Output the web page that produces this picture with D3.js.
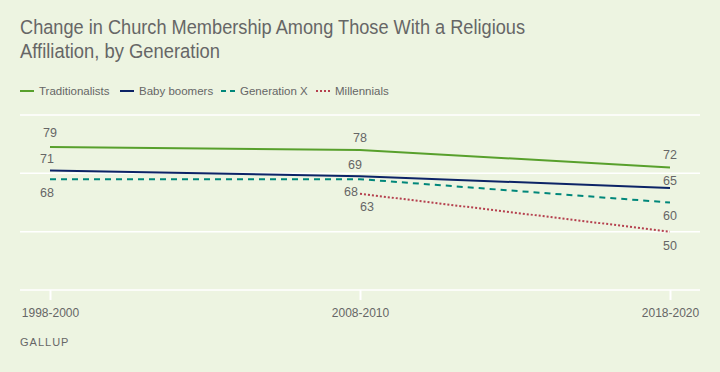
<!DOCTYPE html>
<html lang="en">
<head>
  <meta charset="UTF-8">
  <title>Church Membership by Generation</title>
  <script src="https://d3js.org/d3.v7.min.js"></script>
  <style>
    body {
      margin: 0;
      background: #edf4e1;
      font-family: "Liberation Sans", Arial, sans-serif;
    }
    .title {
      font-size: 20.5px;
      fill: #666;
    }
    .legend text {
      font-size: 11.5px;
      fill: #666;
    }
    .value {
      font-size: 12.5px;
      fill: #666;
      text-anchor: middle;
    }
    .axis text {
      font-size: 12px;
      fill: #666;
    }
  </style>
</head>
<body>
  <svg id="chart"></svg>
  <script>
    const width = 720;
    const height = 372;

    // data
    const periods = ["1998-2000", "2008-2010", "2018-2020"];
    const traditionalists = [79, 78, 72];
    const babyBoomers = [71, 69, 65];
    const generationX = [68, 68, 60];
    const millennials = [null, 63, 50];
    const yTicks = [30, 50, 70, 90];

    const series = [
      { name: "Traditionalists", values: traditionalists, color: "#58a02c", dash: null },
      { name: "Baby boomers", values: babyBoomers, color: "#0c2366", dash: null },
      { name: "Generation X", values: generationX, color: "#00877a", dash: "6,5" },
      { name: "Millennials", values: millennials, color: "#b5404e", dash: "2,2" }
    ];

    // label offsets (dx, dy) per series per point, to keep numbers apart
    const labelPos = [
      [[0, -14], [0, -12], [0, -13]],
      [[-3, -12], [-5, -12], [0, -7]],
      [[-3, 13], [-9, 12], [0, 13]],
      [null, [7, 13], [0, 14]]
    ];

    const svg = d3.select("#chart")
      .attr("width", width)
      .attr("height", height);

    const x = d3.scalePoint().domain(periods).range([50, 670]);
    const y = d3.scaleLinear().domain([30, 90]).range([290, 115]);

    // title (Gallup uses a condensed face; squeeze the glyphs to match)
    const title = svg.append("text").attr("class", "title").attr("x", 20).attr("y", 34);
    title.append("tspan").attr("x", 20)
      .attr("textLength", 505).attr("lengthAdjust", "spacingAndGlyphs")
      .text("Change in Church Membership Among Those With a Religious");
    title.append("tspan").attr("x", 20).attr("dy", 24)
      .attr("textLength", 200).attr("lengthAdjust", "spacingAndGlyphs")
      .text("Affiliation, by Generation");

    // legend
    const legend = svg.append("g").attr("class", "legend");
    const legendX = [20, 120, 221, 316];
    series.forEach((s, i) => {
      const lg = legend.append("g").attr("transform", `translate(${legendX[i]},91)`);
      lg.append("line")
        .attr("x1", 0).attr("x2", 14)
        .attr("stroke", s.color)
        .attr("stroke-width", 2)
        .attr("stroke-dasharray", s.dash === "6,5" ? "5,4" : s.dash);
      lg.append("text").attr("x", 19).attr("dy", "0.35em").text(s.name);
    });

    // gridlines
    svg.append("g").selectAll("line")
      .data(yTicks)
      .join("line")
        .attr("x1", 20).attr("x2", 700)
        .attr("y1", d => y(d)).attr("y2", d => y(d))
        .attr("stroke", "#fff")
        .attr("stroke-width", 1.5);

    // x axis
    const xAxis = svg.append("g")
      .attr("class", "axis")
      .attr("transform", `translate(0,${y(30)})`)
      .call(d3.axisBottom(x).tickSize(10).tickPadding(8));
    xAxis.select(".domain").remove();
    xAxis.selectAll("line").attr("stroke", "#fff").attr("stroke-width", 2);
    xAxis.selectAll("text").attr("font-family", "inherit");

    // lines
    const line = d3.line()
      .defined(d => d != null)
      .x((d, i) => x(periods[i]))
      .y(d => y(d));

    series.forEach(s => {
      svg.append("path")
        .datum(s.values)
        .attr("fill", "none")
        .attr("stroke", s.color)
        .attr("stroke-width", 2)
        .attr("stroke-dasharray", s.dash)
        .attr("d", line);
    });

    // value labels
    series.forEach((s, si) => {
      s.values.forEach((v, i) => {
        if (v == null) return;
        const off = labelPos[si][i];
        svg.append("text")
          .attr("class", "value")
          .attr("x", x(periods[i]) + off[0])
          .attr("y", y(v) + off[1])
          .attr("dy", "0.35em")
          .text(v);
      });
    });

    // source
    svg.append("text")
      .attr("x", 20).attr("y", 346)
      .attr("fill", "#666")
      .attr("font-size", 11)
      .attr("letter-spacing", 1)
      .text("GALLUP");
  </script>
</body>
</html>
